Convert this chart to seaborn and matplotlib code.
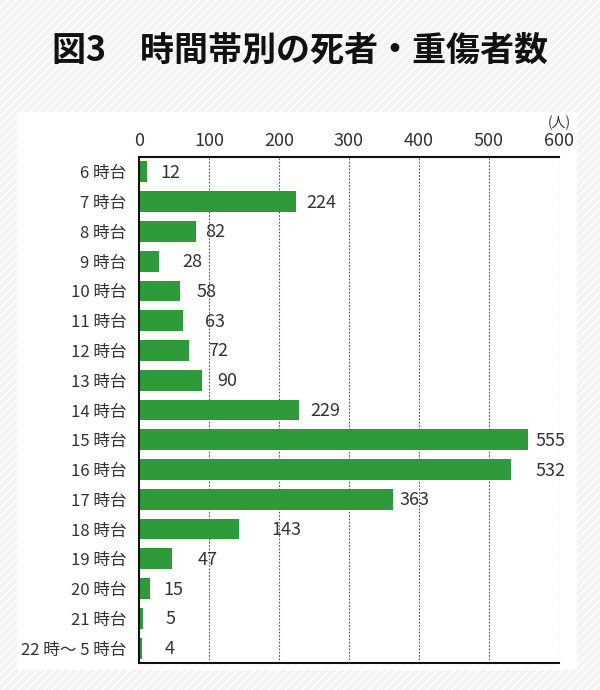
import matplotlib
matplotlib.use("Agg")
import matplotlib.pyplot as plt
import matplotlib.patches as mpatches
from matplotlib.transforms import offset_copy
import seaborn as sns
import pandas as pd

categories = ["6 時台", "7 時台", "8 時台", "9 時台", "10 時台", "11 時台", "12 時台",
              "13 時台", "14 時台", "15 時台", "16 時台", "17 時台", "18 時台",
              "19 時台", "20 時台", "21 時台", "22 時～ 5 時台"]
values = [12, 224, 82, 28, 58, 63, 72, 90, 229, 555, 532, 363, 143, 47, 15, 5, 4]
x_ticks = [0, 100, 200, 300, 400, 500, 600]
title = "図3　時間帯別の死者・重傷者数"
unit = "(人)"

# label offsets in pixels (style only)
label_offsets = [13, 11, 9, 24, 17, 22, 19, 15, 11, 8, 24, 6, 32, 26, 14, 23, 23]

sns.set_theme(style="white")
plt.rcParams["font.family"] = ["Noto Sans CJK JP", "DejaVu Sans"]
plt.rcParams["hatch.linewidth"] = 1.2

W, H = 600, 690
fig = plt.figure(figsize=(W / 100, H / 100), dpi=100)
fig.patch.set_facecolor("#f3f3f3")

# striped background
bg = mpatches.Rectangle((0, 0), 1, 1, transform=fig.transFigure, facecolor="#f3f3f3",
                        edgecolor="#ffffff", hatch="////", linewidth=0, zorder=-10)
fig.add_artist(bg)
# white panel
panel = mpatches.Rectangle((17 / W, 1 - 670 / H), (577 - 17) / W, (670 - 112) / H,
                           transform=fig.transFigure, facecolor="white", edgecolor="none",
                           zorder=-5)
fig.add_artist(panel)

fig.text(0.5, 1 - 50 / H, title, ha="center", va="center", fontsize=24.5,
         fontweight="bold", color="#111111")

ax_left, ax_right, ax_top, ax_bottom = 139, 559, 157, 663
ax = fig.add_axes([ax_left / W, 1 - ax_bottom / H, (ax_right - ax_left) / W,
                   (ax_bottom - ax_top) / H])
ax.set_facecolor("none")

df = pd.DataFrame({"cat": categories, "val": values})
sns.barplot(data=df, y="cat", x="val", orient="h", color="#2f9a3a", saturation=1,
            width=0.7, ax=ax, edgecolor="none")

ax.set_xlim(0, 600)
ax.set_ylim(len(categories) - 0.5, -0.5)
ax.set_xlabel("")
ax.set_ylabel("")
ax.xaxis.tick_top()
ax.set_xticks(x_ticks)
ax.set_xticklabels([str(t) for t in x_ticks], fontsize=13, color="#333333")
ax.tick_params(axis="x", length=0, pad=5)
ax.tick_params(axis="y", length=0, pad=9, labelsize=12, labelcolor="#333333")

for t in x_ticks[1:]:
    ax.axvline(t, color="#555555", linestyle=(0, (1.5, 1.5)), linewidth=0.8, zorder=0)

for s in ["top", "left", "bottom"]:
    ax.spines[s].set_visible(True)
    ax.spines[s].set_color("#111111")
    ax.spines[s].set_linewidth(1.5)
ax.spines["right"].set_visible(False)

for i, (v, off) in enumerate(zip(values, label_offsets)):
    tr = offset_copy(ax.transData, fig=fig, x=off, y=-1, units="dots")
    ax.text(v, i, str(v), transform=tr, ha="left", va="center", fontsize=13,
            color="#333333")

ax.text(600, -0.5, unit, transform=offset_copy(ax.transData, fig=fig, x=0, y=27, units="dots"),
        ha="center", va="bottom", fontsize=10, color="#333333")

fig.savefig("out.png", dpi=100)
